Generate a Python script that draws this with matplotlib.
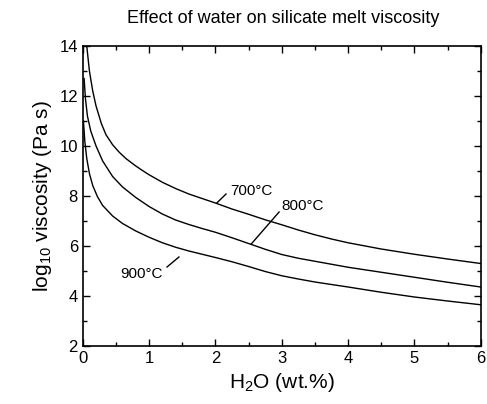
import matplotlib
matplotlib.use("Agg")
import matplotlib.pyplot as plt
from matplotlib.ticker import MultipleLocator

plt.rcParams["font.family"] = ["Liberation Sans", "DejaVu Sans"]
plt.rcParams["mathtext.fontset"] = "custom"
plt.rcParams["mathtext.rm"] = "Liberation Sans"
plt.rcParams["mathtext.it"] = "Liberation Sans:italic"

# curves: water content (wt.%) vs log10 viscosity
x_700 = [0.06, 0.1, 0.15, 0.2, 0.28, 0.35, 0.45, 0.55, 0.65, 0.8, 0.9, 1.0, 1.2, 1.4, 1.6, 1.8,
         2.0, 2.25, 2.5, 2.75, 3.0, 3.25, 3.5, 3.75, 4.0, 4.5, 5.0, 5.5, 6.0]
y_700 = [14.0, 13.0, 12.2, 11.6, 10.9, 10.45, 10.05, 9.75, 9.5, 9.2, 9.02, 8.85, 8.55, 8.3, 8.08, 7.9,
         7.72, 7.48, 7.27, 7.05, 6.85, 6.64, 6.45, 6.28, 6.13, 5.88, 5.67, 5.48, 5.3]

x_800 = [0.02, 0.04, 0.07, 0.12, 0.2, 0.3, 0.45, 0.6, 0.8, 1.0, 1.2, 1.4, 1.6, 1.8,
         2.0, 2.25, 2.5, 2.75, 3.0, 3.25, 3.5, 4.0, 4.5, 5.0, 5.5, 6.0]
y_800 = [12.7, 11.9, 11.2, 10.6, 10.0, 9.4, 8.78, 8.36, 7.94, 7.58, 7.28, 7.04, 6.86, 6.7,
         6.55, 6.33, 6.1, 5.87, 5.66, 5.51, 5.39, 5.15, 4.95, 4.75, 4.55, 4.36]

x_900 = [0.01, 0.03, 0.06, 0.1, 0.15, 0.22, 0.3, 0.45, 0.6, 0.8, 1.0, 1.2, 1.4, 1.6, 1.8,
         2.0, 2.25, 2.5, 2.75, 3.0, 3.25, 3.5, 4.0, 4.5, 5.0, 5.5, 6.0]
y_900 = [11.0, 10.2, 9.5, 8.9, 8.42, 7.98, 7.62, 7.2, 6.9, 6.6, 6.35, 6.13, 5.95, 5.8, 5.67,
         5.54, 5.37, 5.18, 4.98, 4.81, 4.68, 4.56, 4.36, 4.15, 3.96, 3.8, 3.65]

labels = ["700°C", "800°C", "900°C"]
label_pos = [(2.22, 8.2), (2.99, 7.6), (0.57, 4.88)]
leader_x = [(2.02, 2.16), (2.54, 2.96), (1.27, 1.45)]
leader_y = [(7.72, 8.08), (6.08, 7.36), (5.16, 5.56)]

fig = plt.figure(figsize=(4.87, 4.04), dpi=100)
ax = fig.add_axes([0.170, 0.1436, 0.817, 0.7424])

for xs, ys in [(x_700, y_700), (x_800, y_800), (x_900, y_900)]:
    ax.plot(xs, ys, color="black", linewidth=1.0)

for lab, (tx, ty), lx, ly in zip(labels, label_pos, leader_x, leader_y):
    ax.plot(lx, ly, color="black", linewidth=1.0)
    ax.text(tx, ty, lab, fontsize=11, ha="left", va="center")

ax.set_xlim(0, 6)
ax.set_ylim(2, 14)
ax.xaxis.set_major_locator(MultipleLocator(1))
ax.xaxis.set_minor_locator(MultipleLocator(0.5))
ax.yaxis.set_major_locator(MultipleLocator(2))
ax.yaxis.set_minor_locator(MultipleLocator(1))
ax.tick_params(which="both", direction="in", top=True, right=True, labelsize=12)
ax.tick_params(which="major", length=5, width=1.0)
ax.tick_params(which="minor", length=3, width=1.0)
for sp in ax.spines.values():
    sp.set_linewidth(1.2)

ax.set_xlabel("H$_2$O (wt.%)", fontsize=15)
ax.set_ylabel("log$_{10}$ viscosity (Pa s)", fontsize=15)
fig.text(0.581, 0.955, "Effect of water on silicate melt viscosity", fontsize=13, ha="center", va="center")

fig.savefig("out.png", dpi=100)
